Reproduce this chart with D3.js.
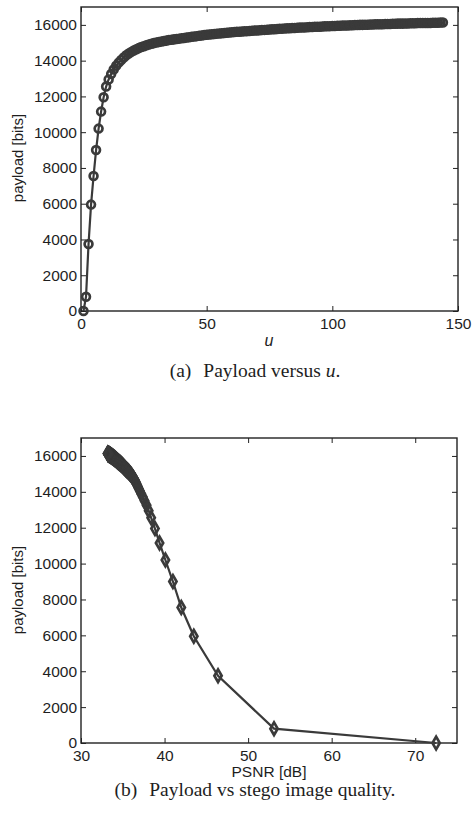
<!DOCTYPE html>
<html>
<head>
<meta charset="utf-8">
<script src="https://cdn.jsdelivr.net/npm/d3@7"></script>
<style>
  html, body { margin: 0; padding: 0; background: #fff; }
  svg { display: block; }
  .tick text { font-family: "Liberation Sans", Arial, Helvetica, sans-serif; font-size: 15.5px; fill: #1e1e1e; }
  .lbl { font-family: "Liberation Sans", Arial, Helvetica, sans-serif; fill: #1e1e1e; }
  .cap { font-family: "Liberation Serif", "Times New Roman", serif; font-size: 19.5px; fill: #1e1e1e; }
</style>
</head>
<body>
<script>
// ---- Data ----
const uValues = [
  1,2,3,4,5,6,7,8,9,10,11,12,13,14,15,16,17,18,19,20,
  21,22,23,24,25,26,27,28,29,30,31,32,33,34,35,36,37,38,39,40,
  41,42,43,44,45,46,47,48,49,50,51,52,53,54,55,56,57,58,59,60,
  61,62,63,64,65,66,67,68,69,70,71,72,73,74,75,76,77,78,79,80,
  81,82,83,84,85,86,87,88,89,90,91,92,93,94,95,96,97,98,99,100,
  101,102,103,104,105,106,107,108,109,110,111,112,113,114,115,116,117,118,119,120,
  121,122,123,124,125,126,127,128,129,130,131,132,133,134,135,136,137,138,139,140,
  141,142,143,144
];
const payloadBits = [
  0,800,3750,5950,7550,9000,10200,11150,11950,12550,12950,13250,13500,13710,13890,14040,14180,14300,14400,14490,
  14570,14640,14700,14760,14810,14860,14900,14940,14980,15010,15040,15070,15100,15120,15150,15170,15190,15210,15230,15250,
  15270,15290,15310,15330,15350,15370,15390,15410,15430,15450,15460,15480,15490,15510,15520,15530,15550,15560,15570,15590,
  15600,15610,15620,15630,15640,15650,15660,15670,15680,15690,15700,15710,15720,15730,15740,15750,15760,15770,15780,15790,
  15800,15810,15810,15820,15830,15840,15850,15850,15860,15870,15880,15880,15890,15900,15900,15910,15920,15920,15930,15940,
  15940,15950,15950,15960,15970,15970,15980,15980,15990,15990,16000,16000,16010,16010,16020,16020,16030,16030,16040,16040,
  16050,16050,16050,16060,16060,16070,16070,16070,16080,16080,16090,16090,16090,16100,16100,16100,16110,16110,16110,16120,
  16120,16120,16130,16130
];
const psnrDb = [
  72.5,53.1,46.4,43.5,42.0,41.0,40.1,39.4,38.85,38.4,38.1,37.85,37.6,37.4,37.2,37.05,36.9,36.8,36.7,36.6,
  36.52,36.44,36.36,36.28,36.21,36.15,36.08,36.02,35.96,35.90,35.84,35.79,35.73,35.68,35.63,35.58,35.54,35.49,35.44,35.40,
  35.36,35.32,35.28,35.24,35.20,35.16,35.12,35.09,35.05,35.01,34.98,34.95,34.91,34.88,34.85,34.82,34.79,34.76,34.73,34.70,
  34.67,34.64,34.61,34.59,34.56,34.53,34.51,34.48,34.46,34.43,34.41,34.38,34.36,34.34,34.31,34.29,34.27,34.25,34.22,34.20,
  34.18,34.16,34.14,34.12,34.10,34.08,34.06,34.04,34.02,34.00,33.98,33.96,33.94,33.92,33.90,33.89,33.87,33.85,33.83,33.82,
  33.80,33.78,33.76,33.75,33.73,33.71,33.70,33.68,33.67,33.65,33.64,33.62,33.60,33.59,33.57,33.56,33.54,33.53,33.51,33.50,
  33.49,33.47,33.46,33.44,33.43,33.42,33.40,33.39,33.38,33.36,33.35,33.34,33.32,33.31,33.30,33.28,33.27,33.26,33.25,33.23,
  33.22,33.21,33.20,33.18
];
const yTicks = [0,2000,4000,6000,8000,10000,12000,14000,16000];
const uTicks = [0,50,100,150];
const psnrTicks = [30,40,50,60,70];
const captionA = ["(a)", "Payload versus ", "u", "."];
const captionB = ["(b)", "Payload vs stego image quality."];

// ---- Drawing ----
const W = 473, H = 816;
const ink = "#3a3a3a";
const svg = d3.select("body").append("svg").attr("width", W).attr("height", H);

function panel(opts) {
  const { left, right, top, bottom, xDomain, xTicks, xs, ys, marker } = opts;
  const x = d3.scaleLinear().domain(xDomain).range([left, right]);
  const y = d3.scaleLinear().domain([0, 17000]).range([bottom, top]);
  const g = svg.append("g");

  const tk = -5;
  const fmt = d3.format("d");
  const ax = [
    g.append("g").attr("transform", `translate(0,${bottom})`).call(d3.axisBottom(x).tickValues(xTicks).tickSize(tk).tickFormat(fmt)),
    g.append("g").attr("transform", `translate(0,${top})`).call(d3.axisTop(x).tickValues(xTicks).tickSize(tk).tickFormat("")),
    g.append("g").attr("transform", `translate(${left},0)`).call(d3.axisLeft(y).tickValues(yTicks).tickSize(tk).tickPadding(4).tickFormat(fmt)),
    g.append("g").attr("transform", `translate(${right},0)`).call(d3.axisRight(y).tickValues(yTicks).tickSize(tk).tickFormat(""))
  ];
  ax.forEach(a => {
    a.select(".domain").remove();
    a.selectAll(".tick line").attr("stroke", "#222").attr("stroke-width", 1);
  });
  ax[0].selectAll(".tick text").attr("dy", null).attr("y", 18);

  g.append("rect").attr("x", left).attr("y", top).attr("width", right - left).attr("height", bottom - top)
    .attr("fill", "none").attr("stroke", "#222").attr("stroke-width", 1.4);

  const pts = xs.map((v, i) => [x(v), y(ys[i])]);
  g.append("path").attr("d", d3.line()(pts)).attr("fill", "none").attr("stroke", ink).attr("stroke-width", 2.2);

  const sym = marker === "circle" ? d3.symbolCircle : d3.symbolDiamond;
  const size = marker === "circle" ? 48 : 46;
  g.append("g").selectAll("path").data(pts).join("path")
    .attr("transform", d => `translate(${d[0]},${d[1]})`)
    .attr("d", d3.symbol(sym, size))
    .attr("fill", "none").attr("stroke", ink).attr("stroke-width", 2.7);
  return { x, y };
}

// Panel (a)
panel({ left: 81, right: 458, top: 7, bottom: 311, xDomain: [0, 150], xTicks: uTicks,
  xs: uValues, ys: payloadBits, marker: "circle" });
svg.append("text").attr("class", "lbl").attr("transform", "translate(23,158) rotate(-90)")
  .attr("text-anchor", "middle").attr("font-size", 15).text("payload [bits]");
svg.append("text").attr("class", "lbl").attr("x", 269).attr("y", 346).attr("text-anchor", "middle")
  .attr("font-size", 16).attr("font-style", "italic").text("u");
const ca = svg.append("text").attr("class", "cap").attr("x", 255).attr("y", 377).attr("text-anchor", "middle");
ca.append("tspan").text(captionA[0]);
ca.append("tspan").attr("dx", 12).text(captionA[1]);
ca.append("tspan").attr("font-style", "italic").text(captionA[2]);
ca.append("tspan").text(captionA[3]);

// Panel (b)
panel({ left: 81, right: 457, top: 438, bottom: 743, xDomain: [30, 75], xTicks: psnrTicks,
  xs: psnrDb, ys: payloadBits, marker: "diamond" });
svg.append("text").attr("class", "lbl").attr("transform", "translate(23,590) rotate(-90)")
  .attr("text-anchor", "middle").attr("font-size", 15).text("payload [bits]");
svg.append("text").attr("class", "lbl").attr("x", 269).attr("y", 777).attr("text-anchor", "middle")
  .attr("font-size", 15.5).text("PSNR [dB]");
const cb = svg.append("text").attr("class", "cb cap").attr("x", 255).attr("y", 796).attr("text-anchor", "middle");
cb.append("tspan").text(captionB[0]);
cb.append("tspan").attr("dx", 12).text(captionB[1]);
</script>
</body>
</html>
